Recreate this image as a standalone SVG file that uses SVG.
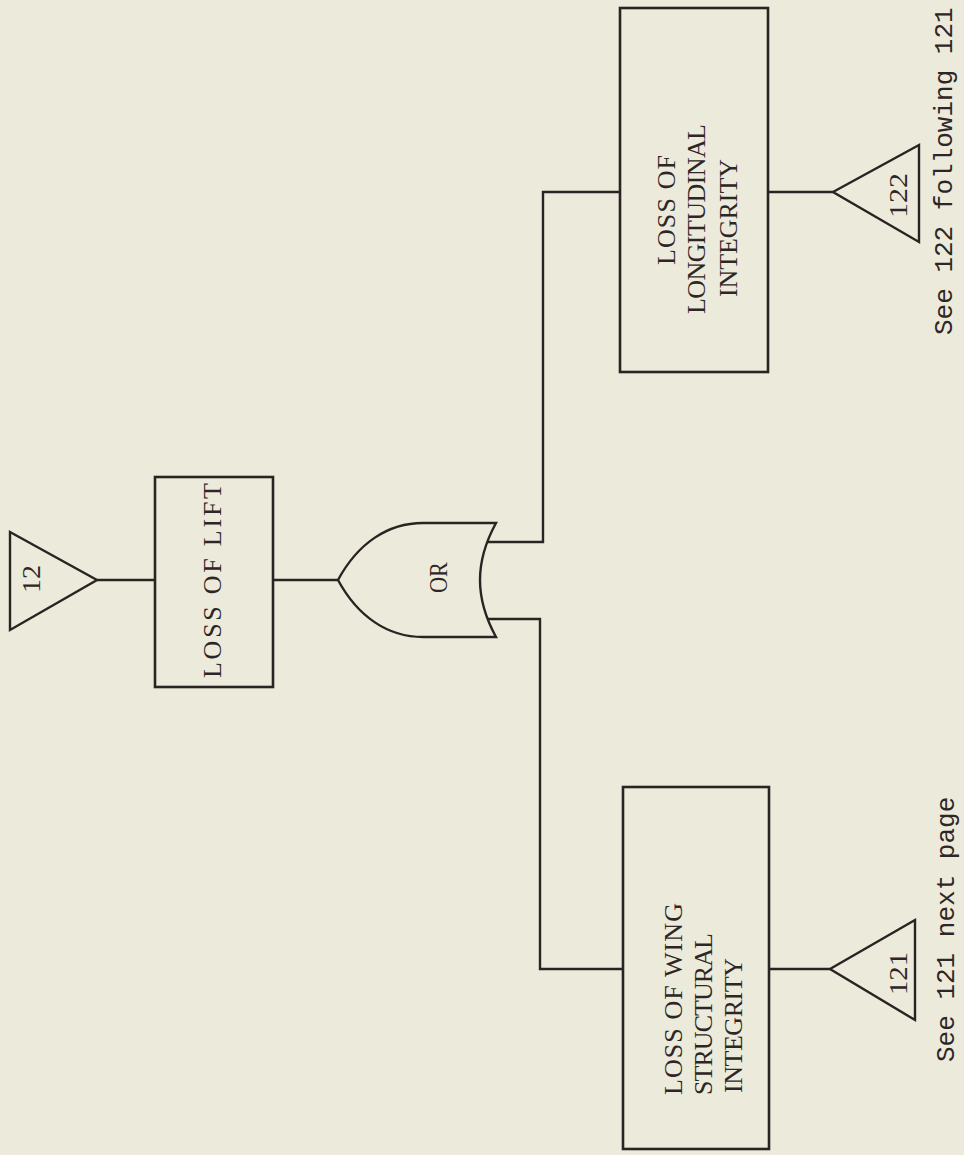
<svg xmlns="http://www.w3.org/2000/svg" width="964" height="1155" viewBox="0 0 964 1155">
<style>
.ln{fill:none;stroke:#2b2222;stroke-width:2.4;stroke-linejoin:miter}
.bx{fill:none;stroke:#2b2222;stroke-width:2.6}
.t{font-family:"Liberation Serif","Times New Roman",serif;font-size:26px;fill:#2e2626}
.s{font-family:"Liberation Mono","Courier New",monospace;font-size:26px;fill:#2e2626}
</style>
<rect width="964" height="1155" fill="#ecebdb"/>
<g id="connectors">
<path class="ln" d="M97,580 H155"/>
<path class="ln" d="M273,580 H338"/>
<path class="ln" d="M487,542 H543 V192 H620"/>
<path class="ln" d="M487,619 H540 V969 H623"/>
<path class="ln" d="M768,192 H833"/>
<path class="ln" d="M769,969 H830"/>
</g>
<g id="tri12">
<path class="ln" d="M10,532 L97,580 L10,630 Z"/>
<text class="t" text-anchor="middle" textLength="28" lengthAdjust="spacingAndGlyphs" transform="translate(40,579) rotate(-90)">12</text>
</g>
<g id="lossOfLift">
<rect class="bx" x="155" y="477" width="118" height="210"/>
<text class="t" textLength="195" lengthAdjust="spacing" transform="translate(221,678) rotate(-90)">LOSS OF LIFT</text>
</g>
<g id="orGate">
<path class="ln" d="M338,580 C358,543 388,523 423,523 L496,523 C484,545 480,562 480,580 C480,598 484,615 496,637 L423,637 C388,637 358,617 338,580 Z"/>
<text class="t" textLength="31" lengthAdjust="spacingAndGlyphs" transform="translate(447,593) rotate(-90)">OR</text>
</g>
<g id="longitudinal">
<rect class="bx" x="620" y="8" width="148" height="364"/>
<text class="t" textLength="110" lengthAdjust="spacing" transform="translate(675,265) rotate(-90)">LOSS OF</text>
<text class="t" textLength="190" lengthAdjust="spacing" transform="translate(705,314) rotate(-90)">LONGITUDINAL</text>
<text class="t" textLength="138" lengthAdjust="spacing" transform="translate(737,297) rotate(-90)">INTEGRITY</text>
</g>
<g id="tri122">
<path class="ln" d="M919,145 L833,192 L919,242 Z"/>
<text class="t" textLength="45" lengthAdjust="spacingAndGlyphs" transform="translate(907,218) rotate(-90)">122</text>
</g>
<g id="wing">
<rect class="bx" x="623" y="787" width="146" height="362"/>
<text class="t" textLength="192" lengthAdjust="spacing" transform="translate(682,1095) rotate(-90)">LOSS OF WING</text>
<text class="t" textLength="162" lengthAdjust="spacing" transform="translate(712,1095) rotate(-90)">STRUCTURAL</text>
<text class="t" textLength="135" lengthAdjust="spacing" transform="translate(742,1093) rotate(-90)">INTEGRITY</text>
</g>
<g id="tri121">
<path class="ln" d="M915,920 L830,969 L915,1020 Z"/>
<text class="t" textLength="43" lengthAdjust="spacingAndGlyphs" transform="translate(907,995) rotate(-90)">121</text>
</g>
<g id="notes">
<text class="s" transform="translate(952,335) rotate(-90)">See 122 following 121</text>
<text class="s" transform="translate(954,1062) rotate(-90)">See 121 next page</text>
</g>
</svg>
